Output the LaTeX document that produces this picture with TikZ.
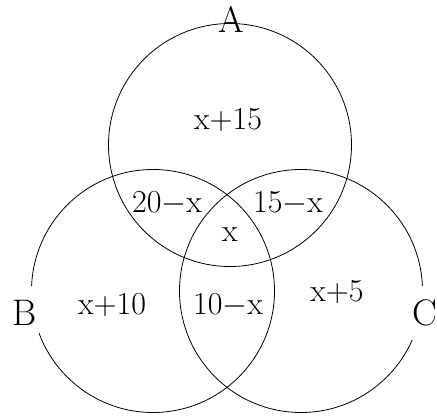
\documentclass[tikz,border=0pt]{standalone}
\usepackage{fix-cm}
\tikzset{
  setcirc/.style={draw,circle,minimum size=243pt,inner sep=0pt,line width=0.8pt},
  setname/.style={font=\fontsize{37}{40}\selectfont,inner sep=0pt},
  region/.style={font=\fontsize{32}{36}\selectfont,inner sep=1pt}
}
\begin{document}
\begin{tikzpicture}[x=1pt,y=-1pt]
    \useasboundingbox (0,0) rectangle (437,420);
    \node[setcirc] (cA) at (230,145) {};
    \node[setcirc] (cB) at (153,291) {};
    \node[setcirc] (cC) at (301,291) {};
    \node[setname] (nA) at (231,19) {A};
    \node[setname,fill=white,inner ysep=14pt,inner xsep=2pt] (nB) at (25,313) {B};
    \node[setname,fill=white,inner ysep=14pt,inner xsep=2pt] (nC) at (425,313) {C};
    \node[region] (rA) at (228,120) {x$+$15};
    \node[region] (rAB) at (167,203) {20$-$x};
    \node[region] (rAC) at (288,203) {15$-$x};
    \node[region] (rABC) at (230,235) {x};
    \node[region] (rB) at (112,305) {x$+$10};
    \node[region] (rBC) at (228,305) {10$-$x};
    \node[region] (rC) at (337,292) {x$+$5};
\end{tikzpicture}
\end{document}
